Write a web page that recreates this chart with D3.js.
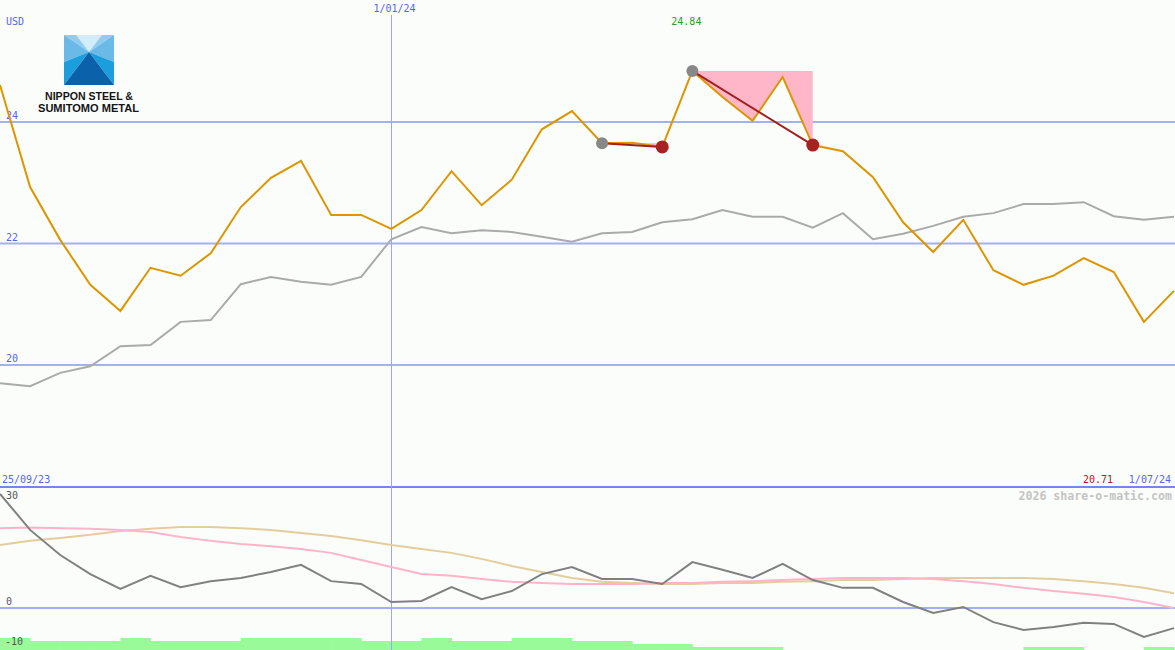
<!DOCTYPE html>
<html><head><meta charset="utf-8">
<script src="https://cdn.jsdelivr.net/npm/d3@7"></script>
<style>html,body{margin:0;padding:0;background:#fbfdfb;overflow:hidden}svg{display:block}</style>
</head><body><svg id="c" width="1175" height="650"></svg>
<script>
// ---------- data ----------
const dates = ["2023-10-02","2023-10-09","2023-10-16","2023-10-23","2023-10-30","2023-11-06","2023-11-13","2023-11-20","2023-11-27","2023-12-04","2023-12-11","2023-12-18","2023-12-25","2024-01-01","2024-01-08","2024-01-15","2024-01-22","2024-01-29","2024-02-05","2024-02-12","2024-02-19","2024-02-26","2024-03-04","2024-03-11","2024-03-18","2024-03-25","2024-04-01","2024-04-08","2024-04-15","2024-04-22","2024-04-29","2024-05-06","2024-05-13","2024-05-20","2024-05-27","2024-06-03","2024-06-10","2024-06-17","2024-06-24","2024-07-01"];
const price = [24.61,22.93,22.06,21.32,20.89,21.60,21.47,21.84,22.60,23.08,23.36,22.47,22.47,22.24,22.55,23.19,22.63,23.05,23.88,24.18,23.65,23.66,23.59,24.84,24.41,24.02,24.74,23.62,23.52,23.09,22.35,21.86,22.39,21.56,21.32,21.47,21.76,21.53,20.71,21.22];
const average = [19.70,19.65,19.87,19.98,20.31,20.33,20.71,20.74,21.33,21.45,21.37,21.32,21.45,22.07,22.27,22.17,22.22,22.19,22.11,22.03,22.17,22.19,22.35,22.40,22.55,22.44,22.44,22.26,22.50,22.07,22.16,22.29,22.44,22.50,22.65,22.65,22.68,22.45,22.39,22.44];
const momentum = [32.3,22.1,15.0,9.6,5.4,9.1,5.9,7.6,8.5,10.2,12.2,7.6,6.8,1.7,2.0,5.9,2.5,4.8,9.6,11.6,8.2,8.2,6.8,13.0,10.8,8.5,12.5,7.9,5.7,5.7,1.7,-1.4,0.3,-4.0,-6.2,-5.4,-4.2,-4.5,-8.2,-5.7];
const smoothPink = [22.6,22.8,22.6,22.4,22.1,21.5,20.1,19.0,18.1,17.5,16.7,15.6,13.6,11.6,9.6,9.1,8.2,7.4,7.1,6.8,6.8,6.8,7.1,7.1,7.4,7.6,7.9,8.2,8.5,8.5,8.5,8.2,7.6,6.8,5.7,4.8,4.0,3.1,1.7,0.0];
const smoothTan = [17.8,19.0,19.8,20.7,21.8,22.4,22.9,22.9,22.6,22.1,21.2,20.4,19.2,17.8,16.7,15.6,13.9,11.9,10.2,8.5,7.4,7.1,6.8,6.8,7.1,7.1,7.4,7.6,7.9,7.9,8.2,8.5,8.5,8.5,8.5,8.2,7.6,6.8,5.7,4.2];
// histogram level for each week-to-week interval
const barLevels = [4,3,3,3,4,3,3,3,4,4,4,4,3,3,4,3,3,4,4,3,3,2,2,1,1,1,0,0,0,0,0,0,0,0,1,1,0,0,1];
const signalStart = [20,23];   // indices of grey markers
const signalEnd = [22,27];     // indices of red markers
const priceTicks = [20,22,24];
const lowerTicks = [30,0,-10];
const markerDate = "2024-01-01";
const leftLabel = "25/09/23", rightLabel = "1/07/24", unitLabel = "USD";

// ---------- scales ----------
const W = 1175, H = 650;
const parse = d3.utcParse("%Y-%m-%d");
const D = dates.map(parse);
const x = d3.scaleUtc().domain([D[0], D[D.length-1]]).range([0, 1174]);
const y = d3.scaleLinear().domain([20,24]).range([365,122]);
const y2 = d3.scaleLinear().domain([0,30]).range([608,502]);
const yb = d3.scaleLinear().domain([0,4]).range([650,638]);

const svg = d3.select("#c");
svg.append("rect").attr("width",W).attr("height",H).attr("fill","#fbfdfb");

const blue = "#5566ee", grid = "#a3b1f0", mono = "'DejaVu Sans Mono', monospace";

// gridlines
svg.selectAll(".g").data(priceTicks).join("line")
  .attr("x1",0).attr("x2",W).attr("y1",d=>y(d)).attr("y2",d=>y(d))
  .attr("stroke",grid).attr("stroke-width",2);
svg.selectAll(".gl").data(priceTicks).join("text")
  .attr("x",6).attr("y",d=>y(d)-3).text(d=>d)
  .attr("font-family",mono).attr("font-size",10).attr("fill",blue);

// lower panel zero line
svg.append("line").attr("x1",0).attr("x2",W).attr("y1",y2(0)).attr("y2",y2(0))
  .attr("stroke",grid).attr("stroke-width",2);

// histogram bars
svg.selectAll(".bar").data(barLevels.map((v,i)=>({v,i})).filter(d=>d.v>0)).join("rect")
  .attr("x",d=>x(D[d.i])).attr("width",d=>x(D[d.i+1])-x(D[d.i])+0.5)
  .attr("y",d=>yb(d.v)).attr("height",d=>yb(0)-yb(d.v))
  .attr("fill","#98fa98");

// separator
svg.append("line").attr("x1",0).attr("x2",W).attr("y1",487).attr("y2",487)
  .attr("stroke","#7585ee").attr("stroke-width",2);

// vertical date marker
const xm = Math.round(x(parse(markerDate)))+0.5;
svg.append("line").attr("x1",xm).attr("x2",xm).attr("y1",15).attr("y2",H)
  .attr("stroke","#98a8f6").attr("stroke-width",1);
svg.append("text").attr("x",xm+3).attr("y",12).attr("text-anchor","middle")
  .text(d3.utcFormat("%-d/%m/%y")(parse(markerDate)))
  .attr("font-family",mono).attr("font-size",10).attr("fill",blue);

// pink drawdown areas
signalStart.forEach((s,k)=>{
  const e = signalEnd[k], lvl = price[s];
  const idx = d3.range(s, e+1);
  const area = d3.area().x(i=>x(D[i])).y0(()=>y(lvl)).y1(i=>y(price[i]));
  svg.append("path").datum(idx).attr("d",area).attr("fill","#ffb6c8");
});

// lines
const line = (arr, sc) => d3.line().x((d,i)=>x(D[i])).y(d=>sc(d))(arr);
svg.append("path").attr("d",line(average,y)).attr("fill","none").attr("stroke","#aaaaaa").attr("stroke-width",2);
svg.append("path").attr("d",line(smoothTan,y2)).attr("fill","none").attr("stroke","#e4cd9c").attr("stroke-width",2);
svg.append("path").attr("d",line(smoothPink,y2)).attr("fill","none").attr("stroke","#ffb4c8").attr("stroke-width",2);
svg.append("path").attr("d",line(momentum,y2)).attr("fill","none").attr("stroke","#808080").attr("stroke-width",2);
svg.append("path").attr("d",line(price,y)).attr("fill","none").attr("stroke","#dd9500").attr("stroke-width",2);

// signal lines & markers
signalStart.forEach((s,k)=>{
  const e = signalEnd[k];
  svg.append("line").attr("x1",x(D[s])).attr("y1",y(price[s])).attr("x2",x(D[e])).attr("y2",y(price[e]))
    .attr("stroke","#a02020").attr("stroke-width",2);
});
svg.selectAll(".sg").data(signalStart).join("circle")
  .attr("cx",i=>x(D[i])).attr("cy",i=>y(price[i])).attr("r",6).attr("fill","#888888");
svg.selectAll(".se").data(signalEnd).join("circle")
  .attr("cx",i=>x(D[i])).attr("cy",i=>y(price[i])).attr("r",6.5).attr("fill","#a82222");

// max / min labels
const maxI = d3.maxIndex(price), minI = d3.minIndex(price);
svg.append("text").attr("x",x(D[maxI])-6).attr("y",25).attr("text-anchor","middle")
  .text(price[maxI].toFixed(2)).attr("font-family",mono).attr("font-size",10).attr("fill","#22a022");
svg.append("text").attr("x",1113).attr("y",483).attr("text-anchor","end")
  .text(price[minI].toFixed(2)).attr("font-family",mono).attr("font-size",10).attr("fill","#a82222");

// axis/text labels
svg.append("text").attr("x",6).attr("y",25).text(unitLabel).attr("font-family",mono).attr("font-size",10).attr("fill",blue);
svg.append("text").attr("x",2).attr("y",483).text(leftLabel).attr("font-family",mono).attr("font-size",10).attr("fill",blue);
svg.append("text").attr("x",1171).attr("y",483).attr("text-anchor","end").text(rightLabel).attr("font-family",mono).attr("font-size",10).attr("fill",blue);
svg.append("text").attr("x",1172).attr("y",500).attr("text-anchor","end").text("2026 share-o-matic.com")
  .attr("font-family",mono).attr("font-size",11.6).attr("font-weight","bold").attr("fill","#c4c4c4");
svg.selectAll(".ll").data(lowerTicks).join("text")
  .attr("x",d=>d<0?5:6).attr("y",d=>d<0?645:y2(d)-3).text(d=>d)
  .attr("font-family",mono).attr("font-size",10).attr("fill","#555555");

// logo
const lg = svg.append("g").attr("transform","translate(64,35)");
const P = pts => "M"+pts.map(p=>p.join(",")).join("L")+"Z";
lg.append("path").attr("d",P([[0,0],[50,0],[25,17]])).attr("fill","#8fcdf0");
lg.append("path").attr("d",P([[12,0],[38,0],[25,17]])).attr("fill","#d2ecfa");
lg.append("path").attr("d",P([[0,0],[25,17],[0,27]])).attr("fill","#6ab9e7");
lg.append("path").attr("d",P([[50,0],[25,17],[50,27]])).attr("fill","#6ab9e7");
lg.append("path").attr("d",P([[0,27],[25,17],[0,50]])).attr("fill","#1a9edc");
lg.append("path").attr("d",P([[50,27],[25,17],[50,50]])).attr("fill","#1a9edc");
lg.append("path").attr("d",P([[25,17],[0,50],[50,50]])).attr("fill","#0b62aa");
svg.append("text").attr("x",45).attr("y",100).attr("textLength",88).attr("lengthAdjust","spacingAndGlyphs")
  .text("NIPPON STEEL &").attr("font-family","'Liberation Sans',Arial,sans-serif").attr("font-weight","bold").attr("font-size",11).attr("fill","#151515");
svg.append("text").attr("x",38).attr("y",112).attr("textLength",101).attr("lengthAdjust","spacingAndGlyphs")
  .text("SUMITOMO METAL").attr("font-family","'Liberation Sans',Arial,sans-serif").attr("font-weight","bold").attr("font-size",11).attr("fill","#151515");
</script></body></html>
